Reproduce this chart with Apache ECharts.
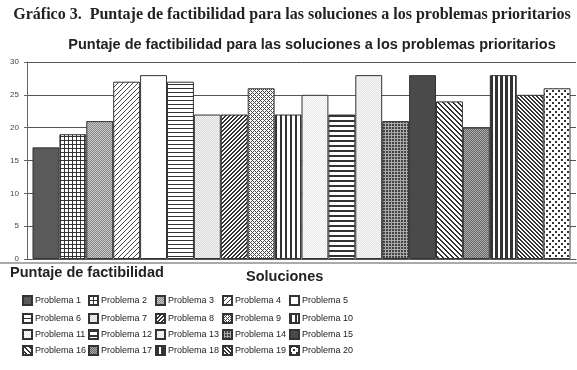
<!DOCTYPE html>
<html>
<head>
<meta charset="utf-8">
<script src="https://cdn.jsdelivr.net/npm/echarts@6/dist/echarts.min.js"></script>
<style>
html, body { margin: 0; padding: 0; background: #fff; }
#chart { width: 577px; height: 370px; }
</style>
</head>
<body>
<div id="chart"></div>
<script>
var categorias = ['Soluciones'];
var problemas = ['Problema 1', 'Problema 2', 'Problema 3', 'Problema 4', 'Problema 5',
	'Problema 6', 'Problema 7', 'Problema 8', 'Problema 9', 'Problema 10',
	'Problema 11', 'Problema 12', 'Problema 13', 'Problema 14', 'Problema 15',
	'Problema 16', 'Problema 17', 'Problema 18', 'Problema 19', 'Problema 20'];
var puntajes = [17, 19, 21, 27, 28, 27, 22, 22, 26, 22, 25, 22, 28, 21, 28, 24, 20, 28, 25, 26];

var sans = '"Liberation Sans", Arial, sans-serif';

// si hay fuente estrecha se usa en la leyenda, si no, letra mas chica
function hayFuente(nombre) {
	var ctx = document.createElement('canvas').getContext('2d');
	ctx.font = '20px monospace';
	var a = ctx.measureText('Problema 12').width;
	ctx.font = '20px "' + nombre + '", monospace';
	return ctx.measureText('Problema 12').width != a;
}
var narrowOk = hayFuente('Liberation Sans Narrow');
var legendFont = narrowOk ? '"Liberation Sans Narrow", sans-serif' : sans;
var legendSize = narrowOk ? 11 : 9;

// tramas tipo excel, cada una es un canvas pequeño repetido
function trama(size, fn) {
	var c = document.createElement('canvas');
	c.width = size;
	c.height = size;
	var ctx = c.getContext('2d');
	for (var x = 0; x < size; x++) {
		for (var y = 0; y < size; y++) {
			ctx.fillStyle = fn(x, y);
			ctx.fillRect(x, y, 1, 1);
		}
	}
	return { image: c, repeat: 'repeat' };
}

var tramas = [
	'#5a5a5a',
	trama(4, function (x, y) { return (x == 0 || y == 0) ? '#333' : '#fff'; }),
	trama(2, function (x, y) { return (x + y) % 2 ? '#8a8a8a' : '#c8c8c8'; }),
	trama(5, function (x, y) { return (x + y) % 5 == 0 ? '#444' : '#fff'; }),
	'#ffffff',
	trama(4, function (x, y) { return y == 0 ? '#333' : '#fff'; }),
	trama(2, function (x, y) { return (x + y) % 2 ? '#d8d8d8' : '#f4f4f4'; }),
	trama(4, function (x, y) { return (x + y) % 4 < 2 ? '#333' : '#fff'; }),
	trama(4, function (x, y) { return ((x + y) % 4 == 0 || (x - y + 8) % 4 == 0) ? '#444' : '#fff'; }),
	trama(5, function (x, y) { return x < 2 ? '#333' : '#fff'; }),
	trama(2, function (x, y) { return (x + y) % 2 ? '#eaeaea' : '#fbfbfb'; }),
	trama(5, function (x, y) { return y < 2 ? '#333' : '#fff'; }),
	trama(2, function (x, y) { return (x + y) % 2 ? '#e2e2e2' : '#f8f8f8'; }),
	trama(6, function (x, y) { return (((x + y) % 6 < 3) != ((x - y + 12) % 6 < 3)) ? '#444' : '#aaa'; }),
	'#4a4a4a',
	trama(5, function (x, y) { return (x - y + 10) % 5 < 2 ? '#333' : '#fff'; }),
	trama(2, function (x, y) { return (x + y) % 2 ? '#6a6a6a' : '#a8a8a8'; }),
	trama(5, function (x, y) { return x < 3 ? '#333' : '#fff'; }),
	trama(4, function (x, y) { return (x - y + 8) % 4 < 2 ? '#333' : '#fff'; }),
	trama(6, function (x, y) { return ((x < 2 && y < 2) || (x >= 3 && x < 5 && y >= 3 && y < 5)) ? '#333' : '#fff'; })
];

var series = problemas.map(function (nombre, i) {
	return {
		name: nombre,
		type: 'bar',
		barGap: '0%',
		barCategoryGap: '2%',
		itemStyle: { color: tramas[i], borderColor: '#333', borderWidth: 1 },
		emphasis: { disabled: true },
		data: [puntajes[i]]
	};
});

// una leyenda por cada problema, en 5 columnas fijas
var colsLeft = [22, 88, 155, 222, 289];
var filasTop = [295, 313, 329, 345];
var leyendas = problemas.map(function (nombre, i) {
	return {
		top: filasTop[Math.floor(i / 5)],
		left: colsLeft[i % 5],
		padding: 0,
		icon: 'rect',
		itemWidth: 9,
		itemHeight: 9,
		selectedMode: false,
		data: [nombre],
		textStyle: { fontSize: legendSize, fontFamily: legendFont, color: '#222', padding: [0, 0, 0, -2] }
	};
});

var dom = document.getElementById('chart');
var myChart = echarts.init(dom, null, { renderer: 'canvas' });

var option = {
	animation: false,
	backgroundColor: '#fff',
	title: [
		{
			text: 'Gráfico 3.  Puntaje de factibilidad para las soluciones a los problemas prioritarios',
			left: 292, top: 7, textAlign: 'center', padding: 0,
			textStyle: { fontFamily: '"Liberation Serif", serif', fontWeight: 'bold', fontSize: 16, color: '#222' }
		},
		{
			text: 'Puntaje de factibilidad para las soluciones a los problemas prioritarios',
			left: 312, top: 37, textAlign: 'center', padding: 0,
			textStyle: { fontFamily: sans, fontWeight: 'bold', fontSize: 14.5, color: '#222' }
		},
		{
			text: 'Puntaje de factibilidad',
			left: 10, top: 265, padding: 0,
			textStyle: { fontFamily: sans, fontWeight: 'bold', fontSize: 14.5, color: '#222' }
		},
		{
			text: 'Soluciones',
			left: 246, top: 269, padding: 0,
			textStyle: { fontFamily: sans, fontWeight: 'bold', fontSize: 14.5, color: '#222' }
		}
	],
	legend: leyendas,
	grid: { left: 27, right: 1, top: 62, bottom: 111 },
	xAxis: {
		type: 'category',
		data: categorias,
		axisLabel: { show: false },
		axisTick: { show: false },
		axisLine: { lineStyle: { color: '#555', width: 1 } }
	},
	yAxis: {
		type: 'value',
		min: 0,
		max: 30,
		interval: 5,
		axisLine: { show: true, lineStyle: { color: '#666', width: 1 } },
		axisTick: { show: true, length: 3, lineStyle: { color: '#666' } },
		axisLabel: { fontSize: 8, color: '#444', margin: 8, fontFamily: sans },
		splitLine: { lineStyle: { color: '#555', width: 1 } }
	},
	graphic: [
		{ type: 'line', shape: { x1: 0, y1: 263, x2: 577, y2: 263 }, style: { stroke: '#aaa', lineWidth: 2 } }
	],
	series: series
};

myChart.setOption(option);
</script>
</body>
</html>
